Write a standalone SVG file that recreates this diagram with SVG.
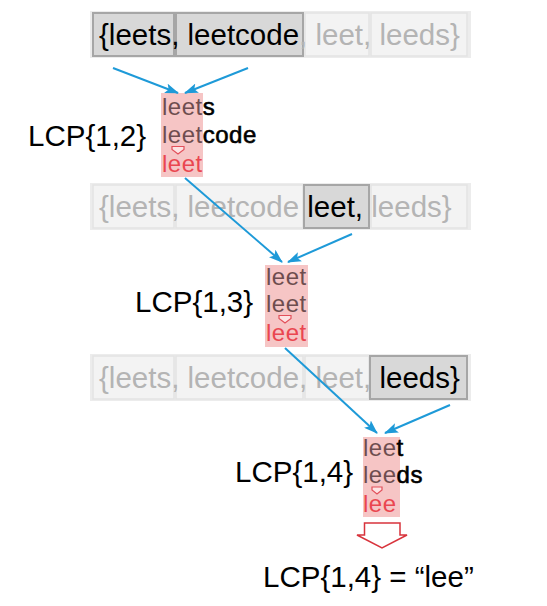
<svg xmlns="http://www.w3.org/2000/svg" width="547" height="606" viewBox="0 0 547 606">
<style>
.strip{fill:#ececec}
.off{fill:#f3f3f3;stroke:#e3e3e3;stroke-width:1.5}
.on{fill:#d8d8d8;stroke:#a6a6a6;stroke-width:2}
.row{font-family:"Liberation Sans",Arial,sans-serif;font-size:29.5px;fill:#b4b4b4}
.dk{fill:#000}
.lbl{font-family:"Liberation Sans",Arial,sans-serif;font-size:29.5px;fill:#000}
.pink{fill:#f6c5c5}
.w{font-family:"Liberation Sans",Arial,sans-serif;font-size:24px;letter-spacing:0.5px;fill:#000}
.suf{stroke:#000;stroke-width:0.6}
.pre{fill:#6e4d4f}
.red{fill:#ea4650}
.sm{fill:#fde3e3;stroke:#e2505a;stroke-width:1.2}
.conn{stroke:#1e9ad8;stroke-width:2;fill:none;marker-end:url(#ah)}
</style>
<defs>
<marker id="ah" viewBox="0 0 14 10" refX="13" refY="5" markerWidth="14" markerHeight="10" markerUnits="userSpaceOnUse" orient="auto">
<path d="M0,0 L14,5 L0,10 L3,5 Z" fill="#1e9ad8"/>
</marker>
</defs>
<rect width="547" height="606" fill="#fff"/>

<g id="row1">
<rect class="strip" x="90" y="11" width="381" height="47"/>
<rect class="on" x="93" y="13" width="81" height="43"/>
<rect class="on" x="176" y="13" width="127" height="43"/>
<rect class="off" x="305" y="13" width="64" height="43"/>
<rect class="off" x="371" y="13" width="96" height="43"/>
<text class="row" x="99" y="45"><tspan class="dk">{leets, leetcode</tspan>, leet, leeds}</text>
</g>

<g id="lcp12">
<rect class="pink" x="161" y="93" width="42" height="84"/>
<text class="w" x="162" y="115"><tspan class="pre">leet</tspan><tspan class="suf">s</tspan></text>
<text class="w" x="162" y="143"><tspan class="pre">leet</tspan><tspan class="suf">code</tspan></text>
<polygon class="sm" points="172,146.5 184,146.5 184,149.5 178,154 172,149.5"/>
<text class="w red" x="162" y="172">leet</text>
<text class="lbl" x="28" y="146">LCP{1,2}</text>
</g>

<g id="row2">
<rect class="strip" x="90" y="183" width="381" height="47"/>
<rect class="off" x="93" y="185" width="81" height="43"/>
<rect class="off" x="176" y="185" width="127" height="43"/>
<rect class="on" x="304" y="185" width="65" height="43"/>
<rect class="off" x="371" y="185" width="96" height="43"/>
<text class="row" x="99" y="217">{leets, leetcode <tspan class="dk">leet,</tspan> leeds}</text>
</g>

<g id="lcp13">
<rect class="pink" x="265" y="265" width="43" height="82"/>
<text class="w pre" x="266" y="285">leet</text>
<text class="w pre" x="266" y="312">leet</text>
<polygon class="sm" points="279,315.5 291,315.5 291,318.5 285,323 279,318.5"/>
<text class="w red" x="266" y="341">leet</text>
<text class="lbl" x="135" y="312">LCP{1,3}</text>
</g>

<g id="row3">
<rect class="strip" x="90" y="354" width="381" height="47"/>
<rect class="off" x="93" y="356" width="81" height="43"/>
<rect class="off" x="176" y="356" width="127" height="43"/>
<rect class="off" x="305" y="356" width="64" height="43"/>
<rect class="on" x="370" y="356" width="97" height="43"/>
<text class="row" x="99" y="388">{leets, leetcode, leet, <tspan class="dk">leeds}</tspan></text>
</g>

<g id="lcp14">
<rect class="pink" x="363" y="437" width="37" height="80"/>
<text class="w" x="363" y="456"><tspan class="pre">lee</tspan><tspan class="suf">t</tspan></text>
<text class="w" x="363" y="483"><tspan class="pre">lee</tspan><tspan class="suf">ds</tspan></text>
<polygon class="sm" points="372,487 382,487 382,490 377,494 372,490"/>
<text class="w red" x="363" y="512">lee</text>
<text class="lbl" x="235" y="482">LCP{1,4}</text>
</g>

<g id="result">
<polygon points="364.5,523 400,523 400,535 407,535 382,548 357,535 364.5,535" fill="#fff" stroke="#d8333c" stroke-width="1.5"/>
<text class="lbl" x="263" y="587">LCP{1,4} = “lee”</text>
</g>

<g id="connectors">
<line class="conn" x1="113" y1="68" x2="178" y2="93"/>
<line class="conn" x1="248" y1="68" x2="185" y2="93"/>
<line class="conn" x1="185" y1="178" x2="282" y2="262"/>
<line class="conn" x1="352" y1="234" x2="288" y2="262"/>
<line class="conn" x1="285" y1="348" x2="377" y2="433"/>
<line class="conn" x1="450" y1="405" x2="385" y2="433"/>
</g>
</svg>
